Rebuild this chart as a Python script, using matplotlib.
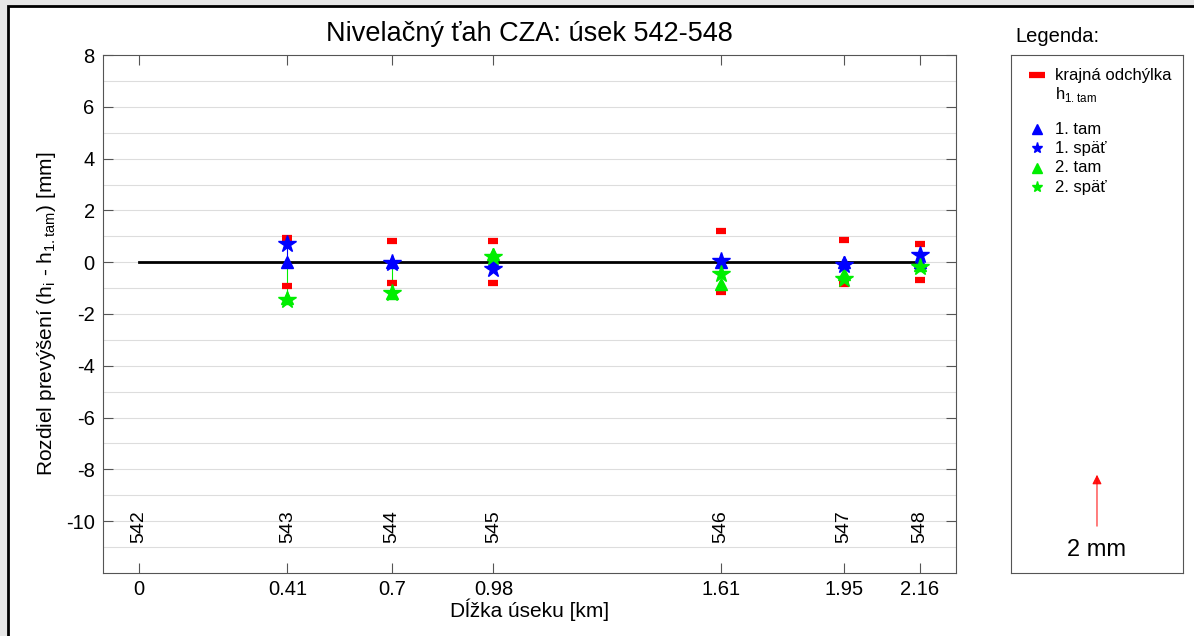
import numpy as np
import matplotlib.pyplot as plt
from matplotlib.patches import Rectangle

plt.rcParams['font.family'] = ['Liberation Sans', 'DejaVu Sans']
plt.rcParams['axes.unicode_minus'] = False

# Distances along the levelling line (km) and point numbers
dist = [0, 0.41, 0.7, 0.98, 1.61, 1.95, 2.16]
stations = ['542', '543', '544', '545', '546', '547', '548']

# Differences from h_1.tam (mm) per segment end (no values at 542)
seg_dist = [0.41, 0.7, 0.98, 1.61, 1.95, 2.16]
limit_up = [0.95, 0.8, 0.8, 1.2, 0.85, 0.7]
limit_down = [-0.9, -0.8, -0.8, -1.15, -0.85, -0.7]
tam1 = [0, 0, 0, 0, 0, 0]
spat1 = [0.7, -0.05, -0.25, 0.05, -0.1, 0.27]
tam2 = [-1.4, -1.2, 0.3, -0.85, -0.45, -0.1]
spat2 = [-1.45, -1.2, 0.2, -0.45, -0.65, -0.2]

GREEN = '#00ee00'

fig = plt.figure(figsize=(11.94, 6.36), dpi=100)
fig.patch.set_facecolor('#e6e6e6')
fig.patches.append(Rectangle((8 / 1194, -0.1), 1.2, 1.1 - 6 / 636,
                             transform=fig.transFigure, facecolor='white',
                             edgecolor='black', linewidth=2, zorder=-10))

ax = fig.add_axes([0.0863, 0.0991, 0.7144, 0.8144])
ax.set_xlim(-0.1, 2.26)
ax.set_ylim(-12, 8)

for y in range(-11, 8):
    ax.axhline(y, color='#dddddd', lw=0.8, zorder=0)

ax.plot([dist[0], dist[-1]], [0, 0], color='black', lw=2, zorder=2)

# connecting lines
ax.vlines(seg_dist, tam1, spat1, color='blue', lw=0.8, zorder=3)
ax.vlines(seg_dist, tam1, spat2, color=GREEN, lw=0.8, zorder=3)

ax.plot(seg_dist, limit_up, ls='none', marker='_', color='red', ms=7, mew=4.5, zorder=4)
ax.plot(seg_dist, limit_down, ls='none', marker='_', color='red', ms=7, mew=4.5, zorder=4)
ax.plot(seg_dist, tam2, ls='none', marker='^', color=GREEN, ms=9, zorder=5)
ax.plot(seg_dist, tam1, ls='none', marker='^', color='blue', ms=9, zorder=5)
ax.plot(seg_dist, spat1, ls='none', marker='*', color='blue', ms=13, zorder=6)
ax.plot(seg_dist, spat2, ls='none', marker='*', color=GREEN, ms=13, zorder=6)

for d, s in zip(dist, stations):
    ax.text(d, -10.2, s, rotation=90, ha='center', va='center', fontsize=14)

ax.set_xticks(dist)
ax.set_xticklabels(['0', '0.41', '0.7', '0.98', '1.61', '1.95', '2.16'])
ax.set_yticks(range(-10, 9, 2))
ax.tick_params(direction='in', length=7, top=True, right=True, labelsize=14.5,
               color='#555555', pad=6)
ax.tick_params(axis='x', pad=5)
for sp in ax.spines.values():
    sp.set_color('#555555')

ax.set_title('Nivelačný ťah CZA: úsek 542-548', fontsize=19.5, pad=10)
ax.set_xlabel('Dĺžka úseku [km]', fontsize=15, labelpad=0)
ax.set_ylabel('Rozdiel prevýšení (h$_\\mathregular{i}$ - h$_\\mathregular{1.tam}$) [mm]',
              fontsize=15, labelpad=6)

# legend panel
lax = fig.add_axes([0.8467, 0.0991, 0.1441, 0.8144])
lax.set_xlim(0, 1)
lax.set_ylim(-12, 8)
lax.set_xticks([])
lax.set_yticks([])
for sp in lax.spines.values():
    sp.set_color('#555555')
fig.text(1015 / 1194, 1 - 37 / 636, 'Legenda:', fontsize=14.5, va='center')

tr = lax.transAxes
hx, tx = 0.151, 0.256
lax.plot([hx], [0.961], marker='_', color='red', ms=11, mew=4.5, transform=tr)
lax.text(tx, 0.961, 'krajná odchýlka', fontsize=12, va='center', transform=tr)
lax.text(tx, 0.923, 'h$_\\mathregular{1.tam}$', fontsize=12, va='center', transform=tr)
entries = [('^', 'blue', 7, '1. tam', 0.857),
           ('*', 'blue', 8, '1. späť', 0.820),
           ('^', GREEN, 7, '2. tam', 0.782),
           ('*', GREEN, 8, '2. späť', 0.745)]
for mk, col, ms, lab, yy in entries:
    lax.plot([hx], [yy], marker=mk, color=col, ms=ms, ls='none', transform=tr)
    lax.text(tx, yy, lab, fontsize=12, va='center', transform=tr)

lax.annotate('', xy=(0.5, -8.1), xytext=(0.5, -10.3),
             arrowprops=dict(arrowstyle='-|>', color='red', lw=0.8,
                             mutation_scale=14, alpha=0.9))
lax.text(0.5, -11.1, '2 mm', ha='center', va='center', fontsize=17)

fig.savefig('out.png', dpi=100, facecolor=fig.get_facecolor())
